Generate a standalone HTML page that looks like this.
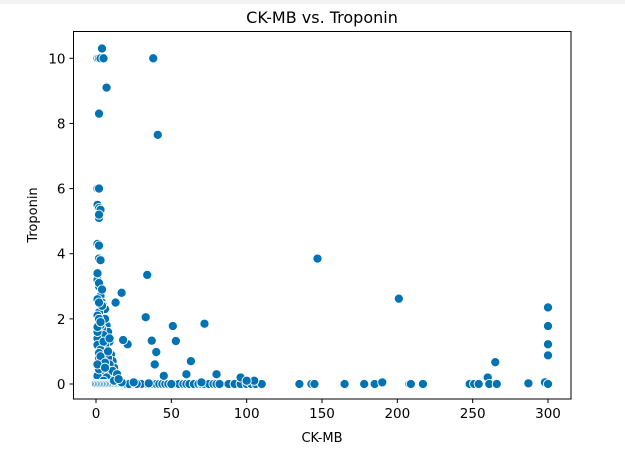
<!DOCTYPE html>
<html><head><meta charset="utf-8"><style>
html,body{margin:0;padding:0;background:#fff;}
svg{display:block;font-family:"DejaVu Sans","Liberation Sans",sans-serif;}
</style></head><body>
<svg id="chart" width="625" height="460">
<rect x="0" y="0" width="625" height="4" fill="#f2f2f2"/>
<text x="322" y="23" text-anchor="middle" font-size="16" fill="#000">CK-MB vs. Troponin</text>
<g id="points"></g>
<g id="axes"></g>
<text x="322" y="442" text-anchor="middle" font-size="13">CK-MB</text>
<text transform="translate(37,215) rotate(-90)" text-anchor="middle" font-size="13">Troponin</text>
</svg>
<script>
const xTicks = [0,50,100,150,200,250,300];
const yTicks = [0,2,4,6,8,10];
const ckmb = [
 1,2,3,4,5,7,2,38,41,1,
 2,1,2,3,2,2,1,2,2,3,
 34,147,201,300,300,300,300,265,260,72,
 51,53,33,37,40,63,39,17,21,18,
 13,
 1,2,3,4,5,6,7,8,9,10,
 11,12,1,2,3,4,5,6,7,8,
 9,10,1,2,3,4,5,6,8,10,
 12,1,2,3,4,6,8,1,2,3,
 5,7,9,1,2,4,6,1,3,5,
 2,4,1,2,3,1,2,1,3,2,
 2,1,3,2,4,1,2,5,3,6,
 8,2,3,1,9,11,14,7,5,6,
 0,1,2,3,4,5,6,7,8,9,
 10,11,12,13,14,15,16,17,18,19,
 20,22,24,26,28,30,32,34,36,38,
 40,42,44,46,48,50,52,55,58,60,
 62,65,68,70,72,75,78,80,82,88,
 92,96,100,103,106,110,135,143,145,165,
 178,185,190,208,209,217,248,251,254,261,
 266,287,298,300,30,35,50,27,22,17,
 80,60,45,105,96,12,15,25,70,100
];
const troponin = [
 10,10,10,10.3,10,9.1,8.3,10,7.65,6,
 6,5.5,5.4,5.35,5.1,5.2,4.3,4.25,3.85,3.8,
 3.35,3.85,2.62,2.35,1.78,1.22,0.88,0.67,0.2,1.85,
 1.78,1.32,2.05,1.33,0.98,0.7,0.6,2.8,1.22,1.35,
 2.5,
 3.2,3.0,2.7,2.5,2.4,2.3,1.8,1.6,1.3,0.9,
 0.7,0.5,2.6,2.2,1.9,1.7,1.5,1.2,1.0,0.8,
 0.6,0.4,1.4,1.1,0.9,0.7,0.5,0.3,0.3,0.2,
 0.25,0.2,0.3,0.4,0.6,0.5,0.4,0.15,0.1,0.1,
 0.2,0.1,0.15,3.4,3.1,2.9,2.0,1.6,0.9,0.7,
 0.4,2.4,2.1,2.5,1.8,1.2,0.8,1.75,1.05,0.95,
 0.3,0.55,0.35,0.15,0.05,0.25,0.45,1.3,0.85,0.65,
 1.0,2.0,1.9,0.6,1.4,0.4,0.3,0.2,0.1,0.5,
 0,0,0,0,0,0,0,0,0,0,
 0,0,0,0,0,0,0,0,0,0,
 0,0,0,0,0,0,0,0,0,0,
 0,0,0,0,0,0,0,0,0,0,
 0,0,0,0,0,0,0,0,0,0,
 0,0,0,0,0,0,0,0,0,0,
 0,0,0.05,0,0,0,0,0,0,0,
 0,0.02,0.05,0,0,0.02,0,0,0,0.05,
 0.3,0.3,0.25,0.1,0.2,0.1,0.15,0.05,0.05,0.1,
 0.05,0.1,0.1,0.05,0.02,0.1,0.15,0.1,0.08,0.05
];
const NS = "http://www.w3.org/2000/svg";
const L=73.5, R=571, T=31.5, B=399;
function sx(v){return 96 + v*(548-96)/300;}
function sy(v){return 384 - v*(384-58.3)/10;}
const pts=document.getElementById('points');
const n=Math.min(ckmb.length,troponin.length);
for(let i=0;i<n;i++){
  const c=document.createElementNS(NS,'circle');
  c.setAttribute('cx',sx(ckmb[i]));c.setAttribute('cy',sy(troponin[i]));
  c.setAttribute('r',4.6);c.setAttribute('fill','#0173b2');
  c.setAttribute('stroke','#fff');c.setAttribute('stroke-width','0.9');
  
  
  pts.appendChild(c);
}
const ax=document.getElementById('axes');
const frame=document.createElementNS(NS,'rect');
frame.setAttribute('x',L);frame.setAttribute('y',T);frame.setAttribute('width',R-L);frame.setAttribute('height',B-T);
frame.setAttribute('fill','none');frame.setAttribute('stroke','#000');frame.setAttribute('stroke-width','1');


ax.appendChild(frame);
xTicks.forEach(t=>{
  const x=sx(t);
  const l=document.createElementNS(NS,'line');
  l.setAttribute('x1',x);l.setAttribute('x2',x);l.setAttribute('y1',B);l.setAttribute('y2',B+4);l.setAttribute('stroke','#000');
  
  
  ax.appendChild(l);
  const tx=document.createElementNS(NS,'text');
  tx.setAttribute('x',x);tx.setAttribute('y',B+19);tx.setAttribute('text-anchor','middle');tx.setAttribute('font-size','13.5');
  tx.textContent=t;
  
  
  ax.appendChild(tx);
});
yTicks.forEach(t=>{
  const y=sy(t);
  const l=document.createElementNS(NS,'line');
  l.setAttribute('x1',L-4);l.setAttribute('x2',L);l.setAttribute('y1',y);l.setAttribute('y2',y);l.setAttribute('stroke','#000');
  
  
  ax.appendChild(l);
  const tx=document.createElementNS(NS,'text');
  tx.setAttribute('x',L-8);tx.setAttribute('y',y+5);tx.setAttribute('text-anchor','end');tx.setAttribute('font-size','13.5');
  tx.textContent=t;
  
  
  ax.appendChild(tx);
});
</script>
</body></html>
